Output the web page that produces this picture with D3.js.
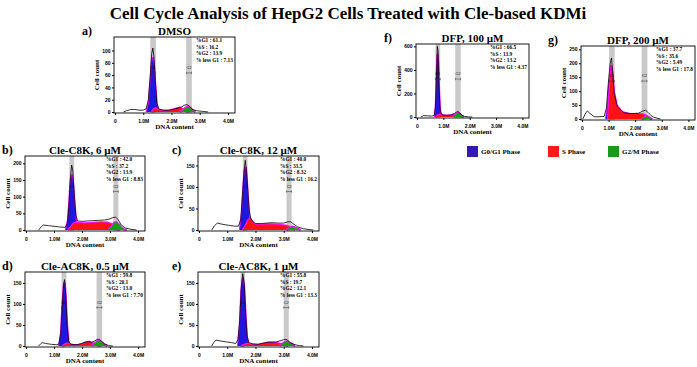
<!DOCTYPE html>
<html>
<head>
<meta charset="utf-8">
<script src="https://cdn.jsdelivr.net/npm/d3@7"></script>
<style>
  body { margin: 0; background: #fff; }
  svg { display: block; font-family: 'Liberation Serif', 'Times New Roman', serif; font-weight: bold; }
</style>
</head>
<body>
<div id="chart"></div>
<script>
// ---- shared labels ----
const xTicks = [0, 1, 2, 3, 4];
const xTickLabels = ['0', '1.0M', '2.0M', '3.0M', '4.0M'];
const statNames = ['%G1', '%S', '%G2', '% less G1'];
const legendLabels = ['G0/G1 Phase', 'S Phase', 'G2/M Phase'];

// ---- a) DMSO ----  points are [DNA content (M), cell count]
const dmsoStats = ['61.1', '16.2', '13.9', '7.13'];
const dmsoTicks = [0, 20, 40, 60, 80, 100];
const dmsoBands = [[1.25, 1.45], [2.52, 2.72]];
const dmsoTotal = [[0.3, 0], [0.4, 2], [0.55, 4], [0.7, 4], [0.85, 3], [1.0, 3], [1.1, 5], [1.18, 20], [1.25, 60], [1.3, 95], [1.34, 104], [1.38, 90], [1.43, 50], [1.48, 15], [1.55, 5], [1.7, 3], [1.9, 3], [2.05, 4], [2.2, 6], [2.35, 8], [2.45, 11], [2.55, 12], [2.65, 9], [2.75, 4], [2.9, 2], [3.1, 1], [3.3, 0]];
const dmsoG1 = [[1.12, 0], [1.2, 15], [1.26, 50], [1.3, 78], [1.34, 88], [1.38, 75], [1.43, 40], [1.48, 12], [1.55, 0]];
const dmsoS = [[1.3, 0], [1.38, 5], [1.45, 6], [1.55, 3], [1.7, 2], [1.9, 2], [2.05, 4], [2.2, 6], [2.3, 7], [2.4, 5], [2.5, 3], [2.6, 0]];
const dmsoG2 = [[2.3, 0], [2.4, 3], [2.5, 7], [2.58, 9], [2.65, 7], [2.75, 3], [2.85, 0]];

// ---- b) Cle-C8K, 6 uM ----
const c8k6Stats = ['42.0', '37.2', '13.9', '8.83'];
const c8k6Ticks = [0, 50, 100, 150, 200];
const c8k6Bands = [[1.55, 1.72], [3.12, 3.3]];
const c8k6Total = [[0.45, 0], [0.55, 10], [0.62, 15], [0.8, 13], [1.0, 11], [1.2, 9], [1.4, 8], [1.48, 20], [1.53, 70], [1.58, 150], [1.63, 195], [1.67, 180], [1.72, 110], [1.78, 45], [1.84, 27], [2.0, 26], [2.2, 27], [2.4, 28], [2.6, 29], [2.8, 30], [2.95, 32], [3.1, 37], [3.2, 39], [3.3, 30], [3.4, 15], [3.55, 6], [3.75, 2], [3.95, 0]];
const c8k6G1 = [[1.42, 0], [1.5, 30], [1.56, 100], [1.6, 150], [1.64, 165], [1.68, 140], [1.73, 80], [1.78, 30], [1.85, 5], [1.9, 0]];
const c8k6S = [[1.5, 0], [1.6, 8], [1.68, 18], [1.75, 22], [1.9, 21], [2.1, 20], [2.3, 21], [2.5, 22], [2.7, 23], [2.9, 22], [3.05, 18], [3.15, 10], [3.25, 3], [3.35, 0]];
const c8k6G2 = [[2.95, 0], [3.05, 10], [3.15, 22], [3.22, 24], [3.3, 18], [3.4, 8], [3.5, 2], [3.6, 0]];

// ---- c) Cle-C8K, 12 uM ----
const c8k12Stats = ['40.0', '33.5', '8.32', '16.2'];
const c8k12Ticks = [0, 50, 100, 150];
const c8k12Bands = [[1.55, 1.72], [3.1, 3.28]];
const c8k12Total = [[0.45, 0], [0.55, 10], [0.65, 16], [0.85, 13], [1.05, 11], [1.25, 9], [1.4, 9], [1.48, 25], [1.54, 80], [1.6, 140], [1.64, 162], [1.68, 140], [1.73, 90], [1.78, 45], [1.83, 28], [1.9, 20], [2.0, 15], [2.2, 15], [2.4, 16], [2.6, 17], [2.8, 16], [3.0, 16], [3.15, 19], [3.25, 19], [3.35, 14], [3.5, 7], [3.7, 3], [3.9, 1], [4.05, 0]];
const c8k12G1 = [[1.45, 0], [1.52, 40], [1.57, 100], [1.62, 140], [1.66, 145], [1.7, 110], [1.75, 55], [1.8, 15], [1.86, 0]];
const c8k12S = [[1.55, 0], [1.65, 10], [1.75, 24], [1.82, 26], [1.9, 17], [2.0, 12], [2.2, 12], [2.4, 13], [2.6, 13], [2.8, 12], [3.0, 11], [3.15, 9], [3.3, 4], [3.4, 0]];
const c8k12G2 = [[3.1, 0], [3.2, 5], [3.3, 8], [3.4, 6], [3.5, 3], [3.6, 0]];

// ---- d) Cle-AC8K, 0.5 uM ----
const ac8k05Stats = ['59.8', '20.1', '13.0', '7.70'];
const ac8k05Ticks = [0, 50, 100, 150];
const ac8k05Bands = [[1.27, 1.44], [2.52, 2.72]];
const ac8k05Total = [[0.45, 0], [0.52, 5], [0.58, 8], [0.7, 6], [0.9, 4], [1.1, 3], [1.18, 5], [1.24, 30], [1.3, 100], [1.35, 150], [1.38, 158], [1.42, 120], [1.47, 50], [1.52, 12], [1.6, 4], [1.8, 3], [1.95, 5], [2.1, 9], [2.25, 10], [2.35, 9], [2.45, 12], [2.55, 16], [2.62, 16], [2.7, 11], [2.8, 5], [2.95, 1], [3.1, 0]];
const ac8k05G1 = [[1.18, 0], [1.25, 30], [1.3, 95], [1.35, 145], [1.38, 150], [1.42, 115], [1.47, 45], [1.52, 10], [1.58, 0]];
const ac8k05S = [[1.3, 0], [1.4, 4], [1.48, 6], [1.55, 4], [1.7, 2], [1.9, 3], [2.05, 6], [2.15, 9], [2.25, 10], [2.35, 7], [2.45, 5], [2.55, 3], [2.65, 0]];
const ac8k05G2 = [[2.35, 0], [2.45, 6], [2.55, 12], [2.62, 13], [2.7, 9], [2.8, 4], [2.9, 0]];

// ---- e) Cle-AC8K, 1 uM ----
const ac8k1Stats = ['55.8', '19.7', '12.1', '13.3'];
const ac8k1Ticks = [0, 50, 100, 150];
const ac8k1Bands = [[1.47, 1.63], [3.0, 3.18]];
const ac8k1Total = [[0.45, 0], [0.52, 8], [0.6, 14], [0.75, 12], [0.95, 10], [1.15, 8], [1.3, 6], [1.38, 15], [1.44, 60], [1.5, 140], [1.55, 172], [1.6, 150], [1.65, 80], [1.7, 25], [1.76, 8], [1.9, 5], [2.1, 4], [2.3, 7], [2.45, 9], [2.6, 9], [2.75, 10], [2.9, 13], [3.0, 15], [3.08, 16], [3.15, 13], [3.25, 7], [3.4, 3], [3.55, 1], [3.7, 0]];
const ac8k1G1 = [[1.38, 0], [1.45, 50], [1.5, 130], [1.55, 160], [1.6, 140], [1.65, 70], [1.7, 20], [1.76, 0]];
const ac8k1S = [[1.5, 0], [1.6, 3], [1.7, 5], [1.8, 4], [1.95, 3], [2.1, 3], [2.3, 6], [2.45, 8], [2.6, 8], [2.75, 7], [2.9, 5], [3.05, 3], [3.15, 0]];
const ac8k1G2 = [[2.85, 0], [2.95, 5], [3.05, 10], [3.12, 11], [3.2, 8], [3.3, 4], [3.4, 0]];

// ---- f) DFP, 100 uM ----
const dfp100Stats = ['66.5', '13.9', '13.2', '4.37'];
const dfp100Ticks = [0, 200, 400, 600];
const dfp100Bands = [[0.7, 0.88], [1.45, 1.66]];
const dfp100Total = [[0.15, 0], [0.25, 12], [0.4, 10], [0.55, 8], [0.65, 12], [0.7, 80], [0.74, 350], [0.77, 600], [0.8, 560], [0.83, 300], [0.87, 80], [0.92, 25], [1.0, 15], [1.15, 14], [1.3, 18], [1.42, 30], [1.5, 42], [1.56, 46], [1.62, 35], [1.7, 15], [1.8, 5], [1.95, 1], [2.1, 0]];
const dfp100G1 = [[0.68, 0], [0.72, 120], [0.75, 380], [0.78, 530], [0.81, 450], [0.84, 200], [0.88, 40], [0.92, 0]];
const dfp100S = [[0.72, 0], [0.8, 15], [0.9, 22], [1.0, 15], [1.15, 12], [1.3, 15], [1.45, 20], [1.55, 18], [1.65, 8], [1.75, 0]];
const dfp100G2 = [[1.38, 0], [1.45, 15], [1.52, 32], [1.57, 36], [1.63, 25], [1.7, 10], [1.78, 0]];

// ---- g) DFP, 200 uM ----
const dfp200Stats = ['37.7', '35.6', '5.49', '17.8'];
const dfp200Ticks = [0, 50, 100, 150, 200, 250];
const dfp200Bands = [[1.02, 1.23], [2.24, 2.46]];
const dfp200Total = [[0.03, 0], [0.12, 18], [0.2, 29], [0.3, 20], [0.46, 8], [0.6, 8], [0.83, 9], [0.92, 40], [1.0, 140], [1.06, 200], [1.11, 219], [1.16, 160], [1.21, 92], [1.33, 44], [1.58, 22], [1.8, 20], [2.0, 20], [2.13, 21], [2.28, 28], [2.39, 32], [2.5, 22], [2.6, 12], [2.7, 6], [2.95, 0]];
const dfp200G1 = [[0.9, 0], [0.96, 40], [1.02, 120], [1.07, 160], [1.12, 110], [1.17, 30], [1.22, 0]];
const dfp200S = [[0.98, 0], [1.05, 120], [1.1, 190], [1.14, 170], [1.2, 100], [1.3, 50], [1.5, 25], [1.8, 18], [2.1, 18], [2.3, 17], [2.45, 10], [2.6, 0]];
const dfp200G2 = [[2.25, 0], [2.33, 5], [2.42, 10], [2.5, 7], [2.58, 2], [2.65, 0]];

const CONFIG = {
    WIDTH: 697,
    HEIGHT: 367,
    X_MAX: 4.25,
    COLORS: { g1: '#1f17e0', s: '#ff1212', g2: '#12a012', fit: '#ff10ff', band: '#c9c9c9' },
    LEGEND_COLORS: ['#3318b4', '#ff1a1a', '#1a9a1a']
};

const panels = [
    { id: 'a', title: 'DMSO', x: 114, y: 37, w: 121, h: 76, yMax: 122, ticks: dmsoTicks, bands: dmsoBands, total: dmsoTotal, g1: dmsoG1, s: dmsoS, g2: dmsoG2, stats: dmsoStats, letterX: 82 },
    { id: 'b', title: 'Cle-C8K, 6 \u00b5M', x: 25, y: 156, w: 120, h: 75, yMax: 222, ticks: c8k6Ticks, bands: c8k6Bands, total: c8k6Total, g1: c8k6G1, s: c8k6S, g2: c8k6G2, stats: c8k6Stats, letterX: 2 },
    { id: 'c', title: 'Cle-C8K, 12 \u00b5M', x: 198, y: 156, w: 121, h: 75, yMax: 172, ticks: c8k12Ticks, bands: c8k12Bands, total: c8k12Total, g1: c8k12G1, s: c8k12S, g2: c8k12G2, stats: c8k12Stats, letterX: 172 },
    { id: 'd', title: 'Cle-AC8K, 0.5 \u00b5M', x: 25, y: 272, w: 120, h: 75, yMax: 176, ticks: ac8k05Ticks, bands: ac8k05Bands, total: ac8k05Total, g1: ac8k05G1, s: ac8k05S, g2: ac8k05G2, stats: ac8k05Stats, letterX: 2 },
    { id: 'e', title: 'Cle-AC8K, 1 \u00b5M', x: 198, y: 272, w: 121, h: 75, yMax: 176, ticks: ac8k1Ticks, bands: ac8k1Bands, total: ac8k1Total, g1: ac8k1G1, s: ac8k1S, g2: ac8k1G2, stats: ac8k1Stats, letterX: 172 },
    { id: 'f', title: 'DFP, 100 \u00b5M', x: 416, y: 44, w: 113, h: 74, yMax: 620, ticks: dfp100Ticks, bands: dfp100Bands, total: dfp100Total, g1: dfp100G1, s: dfp100S, g2: dfp100G2, stats: dfp100Stats, letterX: 384 },
    { id: 'g', title: 'DFP, 200 \u00b5M', x: 581, y: 46, w: 114, h: 74, yMax: 262, ticks: dfp200Ticks, bands: dfp200Bands, total: dfp200Total, g1: dfp200G1, s: dfp200S, g2: dfp200G2, stats: dfp200Stats, letterX: 548 }
];

const svg = d3.select('#chart').append('svg')
    .attr('width', CONFIG.WIDTH)
    .attr('height', CONFIG.HEIGHT)
    .attr('xmlns', 'http://www.w3.org/2000/svg');
const defs = svg.append('defs');

svg.append('text')
    .attr('x', 348).attr('y', 19)
    .attr('text-anchor', 'middle')
    .style('font-size', '17px')
    .text('Cell Cycle Analysis of HepG2 Cells Treated with Cle-based KDMi');

function drawPanel(p) {
    const bottom = p.y + p.h;
    const x = d3.scaleLinear().domain([0, CONFIG.X_MAX]).range([p.x + 1, p.x + p.w]);
    const y = d3.scaleLinear().domain([0, p.yMax]).range([bottom - 1, p.y]);
    const g = svg.append('g');

    defs.append('clipPath').attr('id', 'clip-' + p.id)
        .append('rect').attr('x', p.x).attr('y', p.y).attr('width', p.w).attr('height', p.h);
    const plot = g.append('g').attr('clip-path', 'url(#clip-' + p.id + ')');

    plot.selectAll('rect.band').data(p.bands).enter().append('rect')
        .attr('class', 'band')
        .attr('x', d => x(d[0]))
        .attr('width', d => x(d[1]) - x(d[0]))
        .attr('y', p.y).attr('height', p.h)
        .attr('fill', CONFIG.COLORS.band);

    const area = d3.area().x(d => x(d[0])).y0(y(0)).y1(d => y(d[1]));
    const line = d3.line().x(d => x(d[0])).y(d => y(d[1]));

    // each fitted phase: coloured fill with the magenta fit outline
    [[p.g1, CONFIG.COLORS.g1], [p.s, CONFIG.COLORS.s], [p.g2, CONFIG.COLORS.g2]].forEach(function (c) {
        plot.append('path').datum(c[0]).attr('d', line)
            .attr('fill', 'none').attr('stroke', CONFIG.COLORS.fit).attr('stroke-width', 2.2)
            .attr('stroke-linejoin', 'round');
        plot.append('path').datum(c[0]).attr('d', area).attr('fill', c[1]);
    });

    plot.append('path').datum(p.total).attr('d', line)
        .attr('fill', 'none').attr('stroke', '#000').attr('stroke-width', 0.8);

    // G1 / G2 markers in the bands
    const labY = p.y + p.h * 0.42;
    p.bands.forEach(function (b, i) {
        const cx = x((b[0] + b[1]) / 2);
        g.append('text').attr('x', cx).attr('y', labY)
            .attr('text-anchor', 'middle').style('font-size', '4px').style('font-weight', 'normal')
            .text(i === 0 ? 'G1' : 'G2');
        g.append('path')
            .attr('d', 'M' + (cx - 2.5) + ',' + (labY + 4) + 'h5M' + (cx - 2.5) + ',' + (labY + 2.8) + 'v2.4M' + (cx + 2.5) + ',' + (labY + 2.8) + 'v2.4')
            .attr('stroke', '#333').attr('stroke-width', 0.5).attr('fill', 'none');
    });

    // axes
    g.append('g').attr('transform', 'translate(0,' + bottom + ')')
        .call(d3.axisBottom(x).tickValues(xTicks).tickSize(2).tickFormat((d, i) => xTickLabels[i]))
        .call(a => a.select('.domain').remove())
        .call(a => a.selectAll('text').attr('dy', '0.9em').style('font-size', '5px').style('font-family', 'inherit'));
    g.append('g').attr('transform', 'translate(' + p.x + ',0)')
        .call(d3.axisLeft(y).tickValues(p.ticks).tickSize(2).tickPadding(1.5))
        .call(a => a.select('.domain').remove())
        .call(a => a.selectAll('text').style('font-size', '5px').style('font-family', 'inherit'));

    g.append('rect').attr('x', p.x).attr('y', p.y).attr('width', p.w).attr('height', p.h)
        .attr('fill', 'none').attr('stroke', '#000').attr('stroke-width', 0.9);

    g.append('text')
        .attr('transform', 'translate(' + (p.x - 15) + ',' + (p.y + p.h / 2) + ')rotate(-90)')
        .attr('text-anchor', 'middle').style('font-size', '7px')
        .text('Cell count');
    g.append('text')
        .attr('x', p.x + p.w / 2).attr('y', bottom + 16)
        .attr('text-anchor', 'middle').style('font-size', '7px')
        .text('DNA content');

    g.append('text').attr('x', p.x + p.w / 2).attr('y', p.y - 2)
        .attr('text-anchor', 'middle').style('font-size', '11px')
        .text(p.title);
    g.append('text').attr('x', p.letterX).attr('y', p.y - 2)
        .style('font-size', '12px')
        .text(p.id + ')');

    g.selectAll('text.stat').data(p.stats).enter().append('text')
        .attr('class', 'stat')
        .attr('x', p.x + p.w - 39)
        .attr('y', (d, i) => p.y + 5 + i * 6.6)
        .attr('fill', '#000')
        .style('font-size', '5.4px')
        .text((d, i) => statNames[i] + ' : ' + d);
}

panels.forEach(drawPanel);

// legend
const legendX = [467, 548, 608];
const legend = svg.append('g').selectAll('g').data(legendLabels).enter().append('g')
    .attr('transform', (d, i) => 'translate(' + legendX[i] + ',146)');
legend.append('rect').attr('width', 11).attr('height', 11)
    .attr('fill', (d, i) => CONFIG.LEGEND_COLORS[i]);
legend.append('text').attr('x', 14).attr('y', 8)
    .style('font-size', '7px')
    .text(d => d);
</script>
</body>
</html>
